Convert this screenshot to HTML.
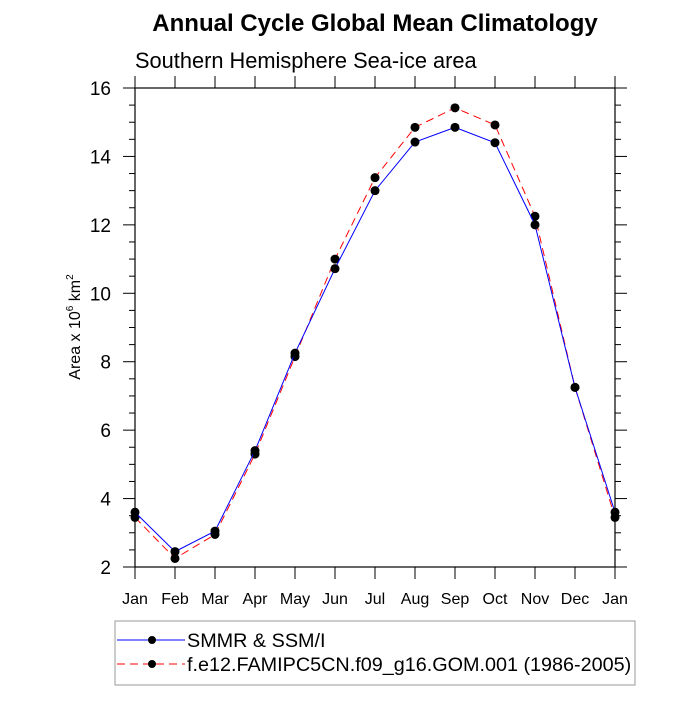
<!DOCTYPE html>
<html><head><meta charset="utf-8"><style>
body{margin:0;background:#fff}
svg text{font-family:"Liberation Sans",sans-serif}
</style></head><body>
<svg id="c" width="700" height="700" xmlns="http://www.w3.org/2000/svg">
<text x="375" y="31" font-size="24" font-weight="bold" text-anchor="middle">Annual Cycle Global Mean Climatology</text>
<text x="135" y="68" font-size="21.8">Southern Hemisphere Sea-ice area</text>
<text transform="translate(80,327) rotate(-90)" font-size="16" text-anchor="middle">Area x 10<tspan font-size="10" dy="-7">6</tspan><tspan dy="7"> km</tspan><tspan font-size="10" dy="-7">2</tspan></text>
<rect x="135" y="88" width="480" height="479" fill="none" stroke="#000" stroke-width="1.2"/>
<g id="axes"></g>
<g id="series"></g>
<g>
<rect x="115" y="621" width="520" height="64" fill="#fff" stroke="#999" stroke-width="1"/>
<line x1="117" y1="640" x2="185" y2="640" stroke="#00f" stroke-width="1"/>
<circle cx="152" cy="640" r="4" fill="#000"/>
<text x="187" y="647" font-size="19.8">SMMR &amp; SSM/I</text>
<line x1="117" y1="664" x2="185" y2="664" stroke="#f00" stroke-width="1" stroke-dasharray="8,5"/>
<circle cx="152" cy="664" r="4" fill="#000"/>
<text x="187" y="671" font-size="19.8">f.e12.FAMIPC5CN.f09_g16.GOM.001 (1986-2005)</text>
</g>
</svg>
<script>
const months=["Jan","Feb","Mar","Apr","May","Jun","Jul","Aug","Sep","Oct","Nov","Dec","Jan"];
const obsValues=[3.6,2.45,3.05,5.4,8.25,10.72,13.0,14.42,14.85,14.4,12.0,7.25,3.6];
const modelValues=[3.45,2.25,2.95,5.3,8.15,11.0,13.38,14.85,15.42,14.92,12.25,7.25,3.45];
const yTicks=[2,4,6,8,10,12,14,16];
const NS="http://www.w3.org/2000/svg";
const X0=135,X1=615,Y0=567,Y1=88,YMIN=2,YMAX=16;
const xs=i=>X0+(X1-X0)*i/(months.length-1);
const ys=v=>Y0-(Y0-Y1)*(v-YMIN)/(YMAX-YMIN);
function mk(t,a,p){const e=document.createElementNS(NS,t);for(const k in a)e.setAttribute(k,a[k]);p.appendChild(e);return e;}
const ax=document.getElementById('axes');
for(let v=YMIN;v<=YMAX+1e-9;v+=0.5){
 const major=Math.abs(v-Math.round(v/2)*2)<1e-9;const L=major?12:6;
 mk('line',{x1:X0-L,x2:X0,y1:ys(v),y2:ys(v),stroke:'#000'},ax);
 mk('line',{x1:X1,x2:X1+L,y1:ys(v),y2:ys(v),stroke:'#000'},ax);
}
yTicks.forEach(v=>{const t=mk('text',{x:X0-24,y:ys(v)+7,'font-size':19,'text-anchor':'end'},ax);t.textContent=v;

});
months.forEach((m,i)=>{
 mk('line',{x1:xs(i),x2:xs(i),y1:Y0,y2:Y0+12,stroke:'#000'},ax);
 mk('line',{x1:xs(i),x2:xs(i),y1:Y1-12,y2:Y1,stroke:'#000'},ax);
 const t=mk('text',{x:xs(i),y:Y0+37,'font-size':16,'text-anchor':'middle'},ax);t.textContent=m;
 
 
});
const sg=document.getElementById('series');
function draw(vals,col,dash,name){
 const p=mk('polyline',{points:vals.map((v,i)=>xs(i)+','+ys(v)).join(' '),fill:'none',stroke:col,'stroke-width':1,'stroke-dasharray':dash},sg);
 
 
 vals.forEach((v,i)=>{const c=mk('circle',{cx:xs(i),cy:ys(v),r:4.5,fill:'#000'},sg);
 
 });
}
draw(modelValues,'#f00','8,5','model');
draw(obsValues,'#00f','none','obs');
</script>
</body></html>
